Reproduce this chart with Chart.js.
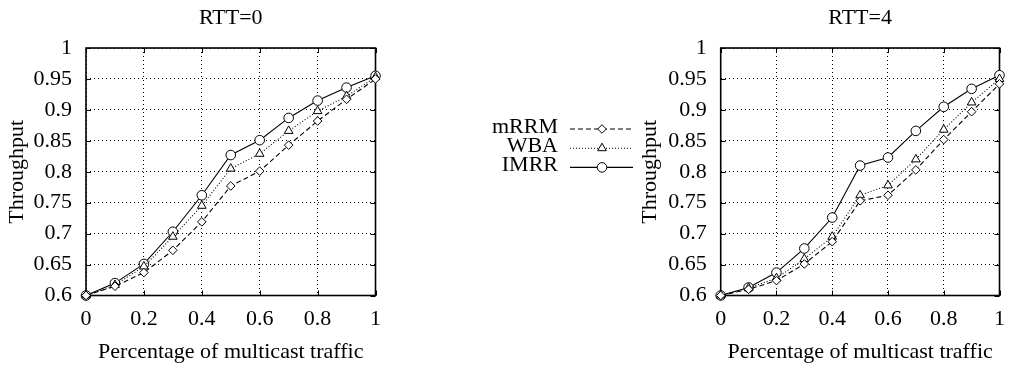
<!DOCTYPE html>
<html><head><meta charset="utf-8">
<script src="https://cdn.jsdelivr.net/npm/chart.js"></script>
<style>
html,body{margin:0;padding:0;background:#fff;}
#wrap{position:relative;width:1016px;height:371px;overflow:hidden;background:#fff;}
.box{position:absolute;top:0;height:371px;}
#b1{left:0;width:640px;}
#b2{left:630px;width:386px;}
</style></head><body>
<div id="wrap"><div class="box" id="b1"><canvas id="c1"></canvas></div><div class="box" id="b2"><canvas id="c2"></canvas></div></div>
<script>
// ---- data ----
const xValues = [0, 0.1, 0.2, 0.3, 0.4, 0.5, 0.6, 0.7, 0.8, 0.9, 1];
const seriesNames = ['mRRM', 'WBA', 'IMRR'];
const rtt0_mRRM = [0.600, 0.615, 0.637, 0.673, 0.719, 0.777, 0.801, 0.843, 0.882, 0.917, 0.950];
const rtt0_WBA  = [0.600, 0.617, 0.647, 0.695, 0.745, 0.805, 0.829, 0.866, 0.898, 0.922, 0.953];
const rtt0_IMRR = [0.600, 0.620, 0.651, 0.703, 0.762, 0.827, 0.851, 0.887, 0.915, 0.936, 0.955];
const rtt4_mRRM = [0.600, 0.610, 0.624, 0.651, 0.687, 0.753, 0.762, 0.803, 0.852, 0.897, 0.942];
const rtt4_WBA  = [0.600, 0.612, 0.628, 0.659, 0.695, 0.762, 0.778, 0.820, 0.868, 0.912, 0.950];
const rtt4_IMRR = [0.600, 0.613, 0.637, 0.676, 0.726, 0.810, 0.823, 0.866, 0.905, 0.934, 0.956];
const xTickLabels = ['0', '0.2', '0.4', '0.6', '0.8', '1'];
const yTickLabels = ['0.6', '0.65', '0.7', '0.75', '0.8', '0.85', '0.9', '0.95', '1'];
const chartTitles = ['RTT=0', 'RTT=4'];
const xAxisTitle = 'Percentage of multicast traffic';
const yAxisTitle = 'Throughput';

// ---- styles ----
const FONT = 'Liberation Serif';
const FS = 22;
const seriesStyles = [
  { pointStyle: 'rectRot', radius: 4.3, dash: [5, 3] },
  { pointStyle: 'triangle', radius: 5, dash: [1, 2] },
  { pointStyle: 'circle', radius: 4.8, dash: [] }
];

function buildDatasets(seriesList) {
  return seriesList.map((vals, i) => ({
    label: seriesNames[i],
    data: vals.map((v, j) => ({ x: xValues[j], y: v })),
    borderColor: '#000',
    borderWidth: 1.1,
    borderDash: seriesStyles[i].dash,
    backgroundColor: '#fff',
    pointStyle: seriesStyles[i].pointStyle,
    pointRadius: seriesStyles[i].radius,
    pointBorderColor: '#000',
    pointBackgroundColor: '#fff',
    pointBorderWidth: 1,
    tension: 0,
    fill: false,
    clip: false
  }));
}

function labelFor(list, v) {
  const f = list.find(l => Math.abs(parseFloat(l) - v) < 1e-6);
  return f === undefined ? '' : f;
}

const framePlugin = {
  id: 'frame',
  beforeDatasetsDraw(chart) {
    const { ctx, chartArea: a, scales } = chart;
    ctx.save();
    ctx.strokeStyle = '#000';
    ctx.setLineDash([]);
    ctx.lineWidth = 1;
    const tl = 5;
    ctx.beginPath();
    yTickLabels.forEach(l => {
      const y = Math.round(scales.y.getPixelForValue(parseFloat(l))) + 0.5;
      ctx.moveTo(a.left, y); ctx.lineTo(a.left + tl, y);
      ctx.moveTo(a.right, y); ctx.lineTo(a.right - tl, y);
    });
    xTickLabels.forEach(l => {
      const x = Math.round(scales.x.getPixelForValue(parseFloat(l))) + 0.5;
      ctx.moveTo(x, a.top); ctx.lineTo(x, a.top + tl);
      ctx.moveTo(x, a.bottom); ctx.lineTo(x, a.bottom - tl);
    });
    ctx.stroke();
    ctx.lineWidth = 1.6;
    ctx.strokeRect(a.left, a.top, a.right - a.left, a.bottom - a.top);
    ctx.restore();
  }
};

const titlePlugin = {
  id: 'topTitle',
  afterDraw(chart, args, opts) {
    const { ctx, chartArea: a } = chart;
    ctx.save();
    ctx.font = FS + 'px "' + FONT + '"';
    ctx.fillStyle = '#000';
    ctx.textAlign = 'center';
    ctx.textBaseline = 'alphabetic';
    ctx.fillText(opts.text, (a.left + a.right) / 2, opts.baseline);
    ctx.restore();
  }
};

const legendPlugin = {
  id: 'midLegend',
  afterDraw(chart, args, opts) {
    if (!opts.show) return;
    const { ctx } = chart;
    const rows = [129, 148.2, 167.4];
    chart.data.datasets.forEach((ds, i) => {
      const y = rows[i];
      ctx.save();
      ctx.font = FS + 'px "' + FONT + '"';
      ctx.fillStyle = '#000';
      ctx.textAlign = 'right';
      ctx.textBaseline = 'alphabetic';
      ctx.fillText(ds.label, 558, y + 4);
      ctx.strokeStyle = '#000';
      ctx.lineWidth = 1.1;
      ctx.setLineDash(ds.borderDash || []);
      ctx.beginPath();
      ctx.moveTo(570, y); ctx.lineTo(633, y);
      ctx.stroke();
      ctx.setLineDash([]);
      ctx.fillStyle = '#fff';
      ctx.strokeStyle = '#000';
      ctx.lineWidth = 1;
      const pOpts = { pointStyle: ds.pointStyle, radius: ds.pointRadius, rotation: 0, borderWidth: 1 };
      if (Chart.helpers && Chart.helpers.drawPoint) {
        Chart.helpers.drawPoint(ctx, pOpts, 602, y);
      }
      ctx.restore();
    });
  }
};

function makeChart(canvasId, series, title, yWidth, padRight, yTitlePad, showLegend) {
  return new Chart(document.getElementById(canvasId), {
    type: 'line',
    data: { datasets: buildDatasets(series) },
    plugins: [framePlugin, titlePlugin, legendPlugin],
    options: {
      responsive: true,
      maintainAspectRatio: false,
      animation: false,
      devicePixelRatio: 1,
      layout: { padding: { left: 0, top: 48, right: padRight, bottom: 0 } },
      plugins: {
        legend: { display: false },
        tooltip: { enabled: false },
        topTitle: { text: title, baseline: 23.5 },
        midLegend: { show: showLegend }
      },
      scales: {
        x: {
          type: 'linear', min: 0, max: 1,
          afterFit: s => { s.height = 75.5; },
          ticks: {
            stepSize: 0.2, autoSkip: false, maxRotation: 0, padding: 11,
            color: '#000', font: { family: FONT, size: FS },
            callback: v => labelFor(xTickLabels, v)
          },
          grid: { color: '#000', lineWidth: 1, drawTicks: false },
          border: { display: false, dash: [1, 3] },
          title: { display: true, text: xAxisTitle, color: '#000', font: { family: FONT, size: FS }, padding: { top: 0, bottom: 6 } }
        },
        y: {
          type: 'linear', min: 0.6, max: 1,
          afterFit: s => { s.width = yWidth; },
          ticks: {
            stepSize: 0.05, autoSkip: false, padding: 14,
            color: '#000', font: { family: FONT, size: FS },
            callback: v => labelFor(yTickLabels, v)
          },
          grid: { color: '#000', lineWidth: 1, drawTicks: false },
          border: { display: false, dash: [1, 3] },
          title: { display: true, text: yAxisTitle, color: '#000', font: { family: FONT, size: FS }, padding: { top: yTitlePad, bottom: 0 } }
        }
      }
    }
  });
}

makeChart('c1', [rtt0_mRRM, rtt0_WBA, rtt0_IMRR], chartTitles[0], 86, 640 - 375.5, 4, true);
makeChart('c2', [rtt4_mRRM, rtt4_WBA, rtt4_IMRR], chartTitles[1], 90.7, 6, 7, false);
</script>
</body></html>
